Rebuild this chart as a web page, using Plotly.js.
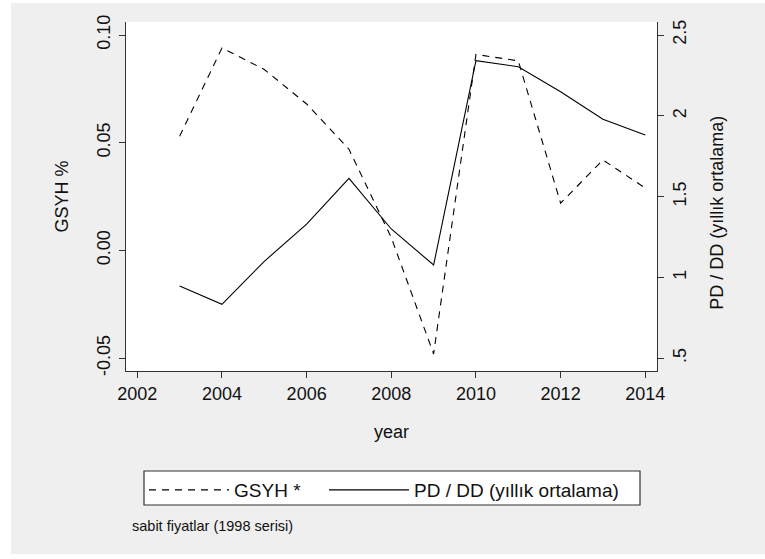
<!DOCTYPE html>
<html>
<head>
<meta charset="utf-8">
<script src="https://cdn.plot.ly/plotly-3.0.1.min.js"></script>
<style>html,body{margin:0;padding:0;background:#fff;}#chart{width:765px;height:559px;}</style>
</head>
<body>
<div id="chart"></div>
<script>
// Data
var years = [2003, 2004, 2005, 2006, 2007, 2008, 2009, 2010, 2011, 2012, 2013, 2014];
var gsyh = [0.053, 0.094, 0.084, 0.068, 0.047, 0.006, -0.048, 0.091, 0.088, 0.022, 0.042, 0.029];
var pdDd = [0.947, 0.834, 1.10, 1.33, 1.613, 1.30, 1.077, 2.341, 2.304, 2.149, 1.979, 1.881];
var xTicks = [2002, 2004, 2006, 2008, 2010, 2012, 2014];
var leftTicks = [-0.05, 0, 0.05, 0.10];
var leftTickText = ["-0.05", "0.00", "0.05", "0.10"];
var rightTicks = [0.5, 1, 1.5, 2, 2.5];
var rightTickText = [".5", "1", "1.5", "2", "2.5"];
var gridTicks = [1, 1.5, 2, 2.5];

var FONT = "Liberation Sans, Arial, sans-serif";
var AX = "#333333";
var TXT = "#111111";

var traces = [
  {x: years, y: gsyh, type: "scatter", mode: "lines", name: "GSYH *",
   line: {color: "#000", width: 1.1, dash: "7px,6px"}, xaxis: "x", yaxis: "y", legend: "legend"},
  {x: years, y: pdDd, type: "scatter", mode: "lines", name: "PD / DD (yıllık ortalama)",
   line: {color: "#000", width: 1.1}, xaxis: "x", yaxis: "y2", legend: "legend2"}
];

var legendBase = {
  orientation: "h", xanchor: "left", y: -0.2865, yanchor: "top",
  bgcolor: "rgba(0,0,0,0)", borderwidth: 0,
  font: {size: 19, color: TXT}, itemwidth: 80
};

var layout = {
  width: 765, height: 559,
  margin: {l: 126, r: 108, t: 22, b: 188, pad: 0},
  paper_bgcolor: "#efefef",
  plot_bgcolor: "#ffffff",
  font: {family: FONT, size: 18, color: TXT},
  showlegend: true,
  xaxis: {
    range: [2001.733, 2014.277], tickvals: xTicks, ticktext: xTicks.map(String),
    showgrid: false, zeroline: false, showline: true, linecolor: AX, linewidth: 1.3,
    ticks: "outside", ticklen: 6, tickwidth: 1, tickcolor: AX,
    tickfont: {size: 18, color: TXT}, mirror: false,
    title: {text: "year", font: {size: 18, color: TXT}, standoff: 22}
  },
  yaxis: {
    range: [-0.05589, 0.10603], tickvals: leftTicks, ticktext: leftTickText,
    showgrid: false, zeroline: false, showline: true, linecolor: AX, linewidth: 1.3,
    ticks: "outside", ticklen: 6, tickwidth: 1, tickcolor: AX,
    tickangle: -90, tickfont: {size: 18, color: TXT}, ticklabelstandoff: 2,
    title: {text: "GSYH %", font: {size: 18, color: TXT}, standoff: 20}
  },
  yaxis3: {
    range: [0.4214, 2.5804], overlaying: "y", side: "right", anchor: "x",
    tickvals: gridTicks, showticklabels: false, ticks: "", showline: false,
    showgrid: true, gridcolor: "#e6e6e6", gridwidth: 1, zeroline: false
  },
  yaxis2: {
    range: [0.4214, 2.5804], overlaying: "y", side: "right", anchor: "x",
    tickvals: rightTicks, ticktext: rightTickText,
    showgrid: false, zeroline: false, showline: true, linecolor: AX, linewidth: 1.3,
    ticks: "outside", ticklen: 6, tickwidth: 1, tickcolor: AX,
    tickangle: -90, tickfont: {size: 18, color: TXT}, ticklabelstandoff: 0
  },
  legend: Object.assign({}, legendBase, {x: 0.0339}),
  legend2: Object.assign({}, legendBase, {x: 0.3729}),
  shapes: [
    {type: "rect", xref: "paper", yref: "paper", x0: -0.25, x1: -0.2166, y0: -0.6, y1: 1.1, fillcolor: "#ffffff", line: {width: 0}, layer: "above"},
    {type: "rect", xref: "paper", yref: "paper", x0: -0.25, x1: 1.25, y0: 1.0544, y1: 1.1, fillcolor: "#ffffff", line: {width: 0}, layer: "above"},
    {type: "rect", xref: "paper", yref: "paper", x0: -0.25, x1: 1.25, y0: -0.6, y1: -0.5244, fillcolor: "#ffffff", line: {width: 0}, layer: "above"},
    // legend frame
    {type: "rect", xref: "paper", yref: "paper", x0: 0.0339, x1: 0.9680, y0: -0.3840, y1: -0.2865, fillcolor: "#ffffff", line: {width: 1.2, color: AX}, layer: "above"}
  ],
  annotations: [
    {text: "PD / DD (yıllık ortalama)", xref: "paper", yref: "paper", x: 1.1124, y: 0.4527,
     xanchor: "center", yanchor: "middle", textangle: -90, showarrow: false,
     font: {size: 18, color: TXT}},
    {text: "sabit fiyatlar (1998 serisi)", xref: "paper", yref: "paper", x: 0.0075, y: -0.444,
     xanchor: "left", yanchor: "middle", showarrow: false, font: {size: 14.5, color: TXT}}
  ]
};

Plotly.newPlot("chart", traces, layout, {displayModeBar: false, staticPlot: true});
</script>
</body>
</html>
